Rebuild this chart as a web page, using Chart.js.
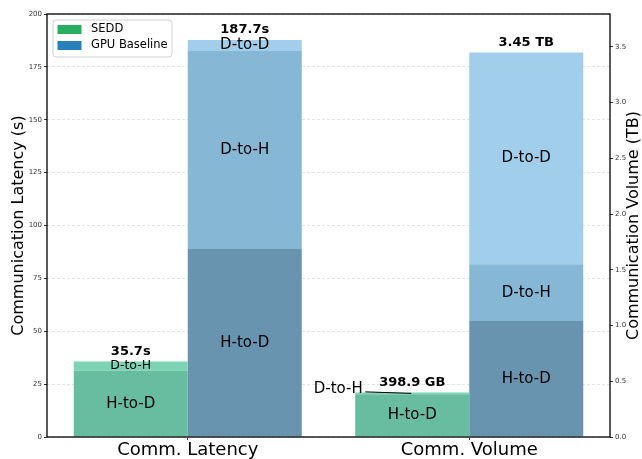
<!DOCTYPE html>
<html>
<head>
<meta charset="utf-8">
<script src="https://cdn.jsdelivr.net/npm/chart.js@4.4.1/dist/chart.umd.min.js"></script>
<style>
  html, body { margin: 0; padding: 0; background: #fff; }
  #wrap { width: 642px; height: 459px; }
</style>
</head>
<body>
<div id="wrap"><canvas id="commChart" width="642" height="459"></canvas></div>
<script>
const categories = ['Comm. Latency', 'Comm. Volume'];
const segmentNames = ['H-to-D', 'D-to-H', 'D-to-D'];

// latency, seconds
const seddLatency = [31.3, 4.4];
const gpuLatency = [88.9, 93.6, 5.2];
// volume, TB
const seddVolume = [0.384, 0.015];
const gpuVolume = [1.04, 0.51, 1.90];

const latencyTotals = ['35.7s', '187.7s'];
const volumeTotals = ['398.9 GB', '3.45 TB'];

const seddColors = ['rgb(104,189,161)', 'rgb(124,212,180)'];
const gpuColors = ['rgb(104,148,176)', 'rgb(134,183,213)', 'rgb(161,206,234)'];

const FONT = "'DejaVu Sans', sans-serif";
Chart.defaults.font.family = FONT;

// one dataset per stacked segment; index 0 = latency (left axis), 1 = volume (right axis)
function makeSets(values, colors, stack, axis, catIndex, total) {
  return values.map((v, i) => ({
    label: segmentNames[i],
    data: catIndex === 0 ? [v, null] : [null, v],
    backgroundColor: colors[i],
    stack: stack,
    yAxisID: axis,
    catIndex: catIndex,
    total: i === values.length - 1 ? total : null
  }));
}

const datasets = [
  ...makeSets(seddLatency, seddColors, 'sedd', 'y', 0, latencyTotals[0]),
  ...makeSets(gpuLatency, gpuColors, 'gpu', 'y', 0, latencyTotals[1]),
  ...makeSets(seddVolume, seddColors, 'sedd', 'y1', 1, volumeTotals[0]),
  ...makeSets(gpuVolume, gpuColors, 'gpu', 'y1', 1, volumeTotals[1])
];

// small D-to-H labels: smaller font in latency bar, callout for volume bar
datasets[1].labelSize = 12.5;
datasets[6].callout = true;

const barLabels = {
  id: 'barLabels',
  afterDatasetsDraw(chart) {
    const ctx = chart.ctx;
    ctx.save();
    ctx.textAlign = 'center';
    ctx.textBaseline = 'middle';
    chart.data.datasets.forEach((ds, di) => {
      const meta = chart.getDatasetMeta(di);
      const el = meta.data[ds.catIndex];
      if (!el) return;
      const cy = (el.y + el.base) / 2;
      ctx.fillStyle = '#000';
      if (ds.callout) {
        ctx.font = '15px ' + FONT;
        ctx.fillText(ds.label, el.x - 74, cy - 4.5);
        ctx.strokeStyle = '#000';
        ctx.lineWidth = 1;
        ctx.beginPath();
        ctx.moveTo(el.x - 47, cy - 1.5);
        ctx.lineTo(el.x - 1, cy);
        ctx.stroke();
      } else {
        ctx.font = (ds.labelSize || 15) + 'px ' + FONT;
        ctx.fillText(ds.label, el.x, cy);
      }
      if (ds.total) {
        ctx.font = 'bold 13px ' + FONT;
        ctx.fillText(ds.total, el.x, el.y - 10);
      }
    });
    ctx.restore();
  }
};

const frameAndText = {
  id: 'frameAndText',
  afterDraw(chart) {
    const ctx = chart.ctx;
    const a = chart.chartArea;
    ctx.save();
    ctx.strokeStyle = '#000';
    ctx.lineWidth = 1.3;
    ctx.strokeRect(a.left, a.top, a.right - a.left, a.bottom - a.top);

    // axis titles
    ctx.fillStyle = '#000';
    ctx.font = '16px ' + FONT;
    ctx.textAlign = 'center';
    ctx.textBaseline = 'middle';
    const midY = (a.top + a.bottom) / 2;
    ctx.save();
    ctx.translate(19, midY);
    ctx.rotate(-Math.PI / 2);
    ctx.fillText('Communication Latency (s)', 0, 0);
    ctx.restore();
    ctx.save();
    ctx.translate(634, midY);
    ctx.rotate(-Math.PI / 2);
    ctx.fillText('Communication Volume (TB)', 0, 0);
    ctx.restore();

    // legend
    const lx = 53, ly = 20, lw = 119, lh = 37;
    ctx.beginPath();
    ctx.roundRect(lx, ly, lw, lh, 3);
    ctx.fillStyle = 'rgba(255,255,255,0.85)';
    ctx.fill();
    ctx.strokeStyle = '#d0d0d0';
    ctx.lineWidth = 1;
    ctx.stroke();
    const items = [['SEDD', '#27ae60'], ['GPU Baseline', '#2980b9']];
    ctx.font = '11.5px ' + FONT;
    ctx.textAlign = 'left';
    items.forEach((it, i) => {
      const y = ly + 9.5 + i * 16;
      ctx.fillStyle = it[1];
      ctx.fillRect(lx + 4.5, y - 4.5, 24, 9);
      ctx.fillStyle = '#000';
      ctx.fillText(it[0], lx + 38, y);
    });
    ctx.restore();
  }
};

new Chart(document.getElementById('commChart'), {
  type: 'bar',
  data: { labels: categories, datasets: datasets },
  options: {
    responsive: false,
    devicePixelRatio: 1,
    animation: false,
    layout: { padding: { top: 14, left: 0, right: 0, bottom: 0 } },
    categoryPercentage: 0.81,
    barPercentage: 1.0,
    plugins: { legend: { display: false }, tooltip: { enabled: false } },
    scales: {
      x: {
        stacked: true,
        grid: { display: true, offset: false, drawOnChartArea: false, tickLength: 3, tickColor: '#333' },
        border: { display: false },
        ticks: { font: { size: 18 }, color: '#000', padding: 0 },
        afterFit: s => { s.height = 22; }
      },
      y: {
        stacked: true,
        position: 'left',
        min: 0,
        max: 200,
        ticks: { stepSize: 25, font: { size: 7 }, color: '#333', padding: 2 },
        grid: { color: '#e3e3e3', tickColor: '#333', tickLength: 3 },
        border: { display: false, dash: [3, 2] },
        afterFit: s => { s.width = 47; }
      },
      y1: {
        stacked: true,
        position: 'right',
        min: 0,
        max: 3.795,
        ticks: {
          stepSize: 0.5,
          includeBounds: false,
          font: { size: 7 },
          color: '#333',
          padding: 2,
          callback: v => v.toFixed(1)
        },
        grid: { drawOnChartArea: false, tickColor: '#333', tickLength: 3 },
        border: { display: false },
        afterFit: s => { s.width = 32; }
      }
    }
  },
  plugins: [barLabels, frameAndText]
});
</script>
</body>
</html>
